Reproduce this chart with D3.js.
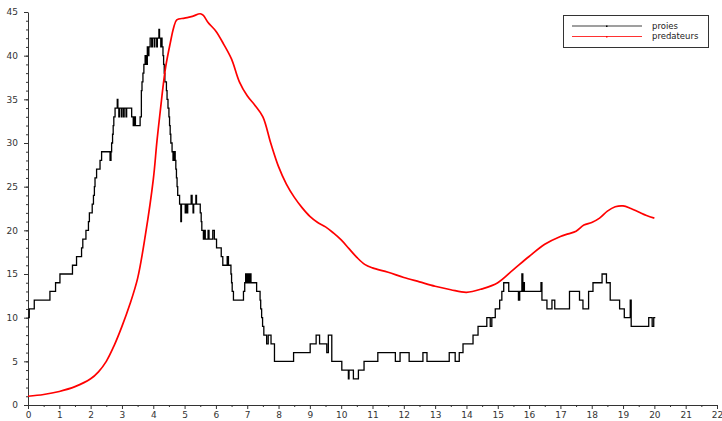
<!DOCTYPE html>
<html>
<head>
<meta charset="utf-8">
<script src="https://cdn.jsdelivr.net/npm/d3@7"></script>
<style>
  html, body { margin: 0; padding: 0; background: #fff; }
  svg { display: block; }
  .tick text { font-family: "DejaVu Sans", sans-serif; font-size: 9px; fill: #333; }
</style>
</head>
<body>
<svg id="chart" width="722" height="421"></svg>
<script>
// ---- Data ----
const xTickLabels = [0,1,2,3,4,5,6,7,8,9,10,11,12,13,14,15,16,17,18,19,20,21,22];
const yTickLabels = [0,5,10,15,20,25,30,35,40,45];
const seriesNames = ["proies", "predateurs"];

// Prey (stochastic, step function): change times and new counts
const preyT = [0,0.04,0.2,0.70,0.88,1.02,1.42,1.55,1.71,1.75,1.85,1.93,1.96,2.05,2.09,2.12,2.14,2.19,2.30,2.35,2.62,2.65,2.67,2.70,2.72,2.74,2.78,2.85,2.87,
  2.90,2.92,2.98,3.00,3.05,3.07,3.13,3.15,3.31,3.36,3.40,3.43,3.58,3.62,3.64,3.67,3.70,3.74,3.78,3.81,3.83,3.86,3.90,
  3.95,3.97,4.03,4.05,4.11,4.13,4.18,4.20,4.24,4.26,4.28,4.31,4.33,4.35,4.37,4.42,4.44,4.47,4.50,4.52,4.54,4.56,4.60,4.63,4.66,4.70,4.72,4.74,4.76,4.78,4.84,4.88,4.90,
  5.02,5.04,5.08,5.10,5.21,5.24,5.27,5.29,5.36,5.38,5.50,5.53,5.55,5.60,5.64,5.66,5.75,5.78,5.90,5.95,6.02,6.17,6.22,6.36,6.40,6.48,6.50,6.52,6.56,
  6.88,6.92,6.95,6.98,7.02,7.05,7.08,7.12,7.30,7.41,7.43,7.46,7.49,7.53,7.57,7.62,7.67,7.76,7.87,
  8.48,9.01,9.20,9.31,9.54,9.59,9.70,10.02,10.23,10.25,10.39,10.55,10.73,11.17,
  11.73,11.88,12.17,12.61,12.74,13.45,13.64,13.77,13.89,14.21,14.37,14.65,14.76,14.81,14.92,15.06,15.13,15.19,15.35,15.66,15.70,15.77,15.80,15.83,15.85,
  16.38,16.41,16.57,16.73,16.82,17.29,17.61,17.72,17.90,18.04,18.33,18.47,18.59,18.89,19.04,19.23,19.26,19.82,19.93,19.98,20.03];
const preyN = [10,11,12,13,14,15,16,17,18,19,20,21,22,23,24,25,26,27,28,29,28,29,30,31,32,33,34,35,34,
  33,34,33,34,33,34,33,34,33,32,33,32,33,36,37,38,39,40,39,41,40,41,42,
  41,42,41,42,41,42,43,42,41,42,41,40,39,38,37,36,35,34,33,32,31,30,29,28,29,28,27,26,25,24,23,21,23,
  22,23,22,23,24,23,22,23,24,23,22,21,20,19,20,19,20,19,20,19,18,17,16,17,16,15,14,13,12,
  13,14,15,14,15,14,15,14,13,12,11,10,9,8,8,7,8,7,5,
  6,7,8,7,6,8,5,4,3,4,3,4,5,6,
  5,6,5,6,5,6,5,6,7,8,9,10,9,10,11,12,13,14,13,12,13,15,13,14,13,
  14,12,11,12,11,13,12,11,13,14,15,14,12,11,10,12,9,10,9,10,10];

// Predators (smooth curve): sample times and values
const predT = [0,0.5,1.0,1.5,2.0,2.25,2.5,2.75,3.0,3.25,3.5,3.75,4.0,4.12,4.25,4.31,4.4,4.54,4.65,4.75,5.0,5.25,5.5,5.6,5.75,6.0,6.25,6.5,6.75,7.0,7.25,7.5,7.75,8.0,8.25,8.5,8.75,9.0,9.25,9.5,9.75,10.0,10.25,10.5,10.75,11.0,11.5,12.0,12.5,13.0,13.5,14.0,14.5,15.0,15.5,16.0,16.5,17.0,17.25,17.5,17.75,18.0,18.25,18.5,18.75,19.0,19.25,19.5,19.75,20.0];
const predN = [1.0,1.2,1.55,2.1,3.0,3.8,5.0,6.8,9.0,11.5,14.5,19.5,25.8,30.3,34.5,36.4,38.8,41.4,43.2,44.1,44.3,44.5,44.8,44.6,43.8,42.8,41.3,39.6,37.0,35.4,34.3,33.0,30.0,27.3,25.3,23.8,22.6,21.6,20.9,20.4,19.7,18.9,17.9,16.9,16.1,15.7,15.2,14.6,14.1,13.6,13.2,12.9,13.3,14.0,15.5,17.0,18.4,19.3,19.6,19.9,20.6,20.9,21.4,22.2,22.7,22.8,22.5,22.1,21.7,21.4];

// ---- Drawing ----
const svg = d3.select("#chart");
const x = d3.scaleLinear().domain([0, 22]).range([28, 717]);
const y = d3.scaleLinear().domain([0, 45]).range([405, 12]);

const xMinor = xTickLabels.slice(0, -1).map(v => v + 0.5);
const yMinor = d3.range(0, 46);

// minor ticks
svg.append("g").attr("transform", "translate(0,405)")
  .call(d3.axisBottom(x).tickValues(xMinor).tickSize(2).tickSizeOuter(0).tickFormat(""))
  .call(g => g.select(".domain").remove())
  .call(g => g.selectAll("line").attr("stroke", "#333"));
svg.append("g").attr("transform", "translate(28,0)")
  .call(d3.axisLeft(y).tickValues(yMinor).tickSize(2).tickSizeOuter(0).tickFormat(""))
  .call(g => g.select(".domain").remove())
  .call(g => g.selectAll("line").attr("stroke", "#333"));

// major axes
svg.append("g").attr("transform", "translate(0,405)")
  .call(d3.axisBottom(x).tickValues(xTickLabels).tickSize(4).tickSizeOuter(0).tickPadding(3).tickFormat(d3.format("d")))
  .call(g => g.select(".domain").attr("stroke", "#333"))
  .call(g => g.selectAll("line").attr("stroke", "#333"));
svg.append("g").attr("transform", "translate(28,0)")
  .call(d3.axisLeft(y).tickValues(yTickLabels).tickSize(4).tickSizeOuter(0).tickPadding(6).tickFormat(d3.format("d")))
  .call(g => g.select(".domain").attr("stroke", "#333"))
  .call(g => g.selectAll("line").attr("stroke", "#333"));

// prey step line
const preyData = preyT.map((t, i) => [t, preyN[i]]);
svg.append("path")
  .datum(preyData)
  .attr("fill", "none")
  .attr("stroke", "#000")
  .attr("stroke-width", 1.3)
  .attr("d", d3.line().x(d => x(d[0])).y(d => y(d[1])).curve(d3.curveStepAfter));

// predator smooth line
const predData = predT.map((t, i) => [t, predN[i]]);
svg.append("path")
  .datum(predData)
  .attr("fill", "none")
  .attr("stroke", "#ff0000")
  .attr("stroke-width", 1.7)
  .attr("d", d3.line().x(d => x(d[0])).y(d => y(d[1])).curve(d3.curveCatmullRom.alpha(0.5)));

// legend
const lg = svg.append("g");
lg.append("rect").attr("x", 563.5).attr("y", 15.5).attr("width", 145).attr("height", 32)
  .attr("fill", "#fff").attr("stroke", "#333").attr("stroke-width", 1);
const colors = ["#000", "#ff0000"];
seriesNames.forEach((name, i) => {
  const yy = 26 + i * 10.5;
  lg.append("line").attr("x1", 572).attr("x2", 642).attr("y1", yy).attr("y2", yy)
    .attr("stroke", colors[i]).attr("stroke-width", 1).attr("opacity", i === 0 ? 0.75 : 0.8);
  lg.append("rect").attr("x", 606).attr("y", yy - 0.5).attr("width", 1.5).attr("height", 1.5)
    .attr("fill", colors[i]);
  lg.append("text").attr("x", 652).attr("y", yy).attr("dy", "0.35em")
    .attr("font-family", "DejaVu Sans, sans-serif").attr("font-size", 8.5).attr("fill", "#222")
    .text(name);
});
</script>
</body>
</html>
